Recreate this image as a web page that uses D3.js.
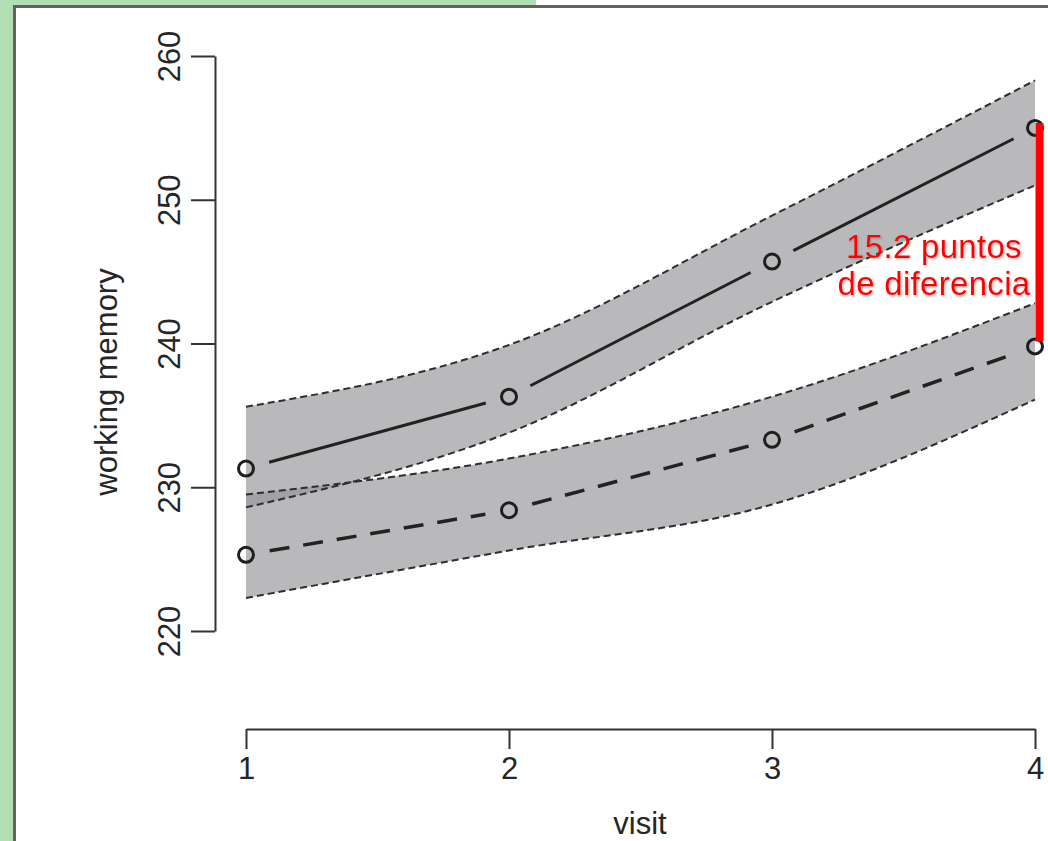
<!DOCTYPE html>
<html>
<head>
<meta charset="utf-8">
<script src="https://cdn.jsdelivr.net/npm/d3@7"></script>
<style>
  body { margin: 0; background: #fff; }
  svg { display: block; font-family: "Liberation Sans", Arial, sans-serif; }
</style>
</head>
<body>
<div id="app"></div>
<script>
// values
var visits = [1, 2, 3, 4];
var xTicks = [1, 2, 3, 4];
var yTicks = [220, 230, 240, 250, 260];

var topMean  = [231.3, 236.3, 245.7, 255.0];
var topLow   = [228.6, 233.8, 242.9, 251.0];
var topHigh  = [235.6, 239.9, 248.9, 258.3];

var lowMean  = [225.3, 228.4, 233.3, 239.8];
var lowLow   = [222.3, 225.6, 228.8, 236.1];
var lowHigh  = [229.5, 232.0, 236.3, 242.8];

var diffLines = ["15.2 puntos", "de diferencia"];

var W = 1048, H = 841;
var svg = d3.select('#app').append('svg').attr('width', W).attr('height', H);

// slide frame: green margin + grey border
svg.append('rect').attr('x', 0).attr('y', 0).attr('width', 14).attr('height', H).attr('fill', '#b1dfb3');
svg.append('rect').attr('x', 0).attr('y', 0).attr('width', 536).attr('height', 6).attr('fill', '#b1dfb3');
svg.append('path').attr('d', 'M14.5,' + H + 'V6.5H' + W)
  .attr('fill', 'none').attr('stroke', '#626262').attr('stroke-width', 3);

var x = d3.scaleLinear().domain([1, 4]).range([246, 1035]);
var y = d3.scaleLinear().domain([220, 260]).range([631, 56]);

var defs = svg.append('defs');
var f = defs.append('filter').attr('id', 'shadow').attr('x', '-10%').attr('y', '-20%').attr('width', '120%').attr('height', '140%');
f.append('feDropShadow').attr('dx', 1.2).attr('dy', 1.2).attr('stdDeviation', 0.8)
  .attr('flood-color', '#777').attr('flood-opacity', 0.6);

// confidence bands
function band(lo, hi) {
  let rows = visits.map(function(v, i) { return { v: v, lo: lo[i], hi: hi[i] }; });
  return rows;
}
var area = d3.area().curve(d3.curveMonotoneX)
  .x(function(d) { return x(d.v); })
  .y0(function(d) { return y(d.lo); })
  .y1(function(d) { return y(d.hi); });
var edge = function(key) {
  return d3.line().curve(d3.curveMonotoneX)
    .x(function(d) { return x(d.v); })
    .y(function(d) { return y(d[key]); });
};

var bands = [band(topLow, topHigh), band(lowLow, lowHigh)];
svg.selectAll('.band').data(bands).enter().append('path')
  .attr('class', 'band')
  .attr('d', area)
  .attr('fill', '#98989c').attr('fill-opacity', 0.68);

bands.forEach(function(b) {
  ['lo', 'hi'].forEach(function(k) {
    svg.append('path').datum(b).attr('d', edge(k))
      .attr('fill', 'none').attr('stroke', '#2e2e2e')
      .attr('stroke-width', 2).attr('stroke-dasharray', '7,4');
  });
});

// mean lines, drawn R "type=b" style: gaps around the points
function gapSegments(vals, gap) {
  let segs = [];
  for (let i = 0; i < vals.length - 1; i++) {
    let x1 = x(visits[i]), y1 = y(vals[i]), x2 = x(visits[i + 1]), y2 = y(vals[i + 1]);
    let len = Math.hypot(x2 - x1, y2 - y1), ux = (x2 - x1) / len, uy = (y2 - y1) / len;
    segs.push([[x1 + ux * gap, y1 + uy * gap], [x2 - ux * gap, y2 - uy * gap]]);
  }
  return segs;
}
var seg = d3.line();
svg.selectAll('.topseg').data(gapSegments(topMean, 24)).enter().append('path')
  .attr('d', seg).attr('stroke', '#222').attr('stroke-width', 3).attr('fill', 'none');
svg.selectAll('.lowseg').data(gapSegments(lowMean, 24)).enter().append('path')
  .attr('d', seg).attr('stroke', '#222').attr('stroke-width', 3.5).attr('fill', 'none')
  .attr('stroke-dasharray', '20,14');

// points
[topMean, lowMean].forEach(function(vals) {
  svg.selectAll(null).data(vals).enter().append('circle')
    .attr('cx', function(d, i) { return x(visits[i]); })
    .attr('cy', function(d) { return y(d); })
    .attr('r', 7.5)
    .attr('fill', 'none').attr('stroke', '#1e1e1e').attr('stroke-width', 3);
});

// axes
var yAxis = svg.append('g').attr('transform', 'translate(215,0)')
  .call(d3.axisLeft(y).tickValues(yTicks).tickSize(24).tickSizeOuter(0).tickFormat(d3.format('d')));
yAxis.selectAll('text')
  .attr('x', null).attr('dy', '0.36em')
  .attr('transform', 'translate(-46,0) rotate(-90)')
  .attr('text-anchor', 'middle');

var xAxis = svg.append('g').attr('transform', 'translate(0,729)')
  .call(d3.axisBottom(x).tickValues(xTicks).tickSize(20).tickSizeOuter(0).tickPadding(8).tickFormat(d3.format('d')));

[yAxis, xAxis].forEach(function(a) {
  a.selectAll('path, line').attr('stroke', '#333').attr('stroke-width', 2);
  a.selectAll('text').attr('fill', '#262626').style('font-size', '31px');
});

svg.append('text').attr('x', 640).attr('y', 834).attr('text-anchor', 'middle')
  .attr('fill', '#262626').style('font-size', '31px').text('visit');
svg.append('text').attr('transform', 'translate(117,382) rotate(-90)').attr('text-anchor', 'middle')
  .attr('fill', '#262626').style('font-size', '31px').text('working memory');

// difference marker
svg.append('line')
  .attr('x1', x(4) + 4.5).attr('x2', x(4) + 4.5)
  .attr('y1', y(topMean[3]) - 5).attr('y2', y(lowMean[3]) - 5)
  .attr('stroke', '#ff0000').attr('stroke-width', 8);

svg.selectAll('.diff').data(diffLines).enter().append('text')
  .attr('class', 'diff')
  .attr('x', 934)
  .attr('y', function(d, i) { return 258 + i * 37; })
  .attr('text-anchor', 'middle')
  .attr('fill', '#ff0000')
  .attr('filter', 'url(#shadow)')
  .style('font-size', '33px')
  .style('letter-spacing', '0.3px')
  .text(function(d) { return d; });
</script>
</body>
</html>
